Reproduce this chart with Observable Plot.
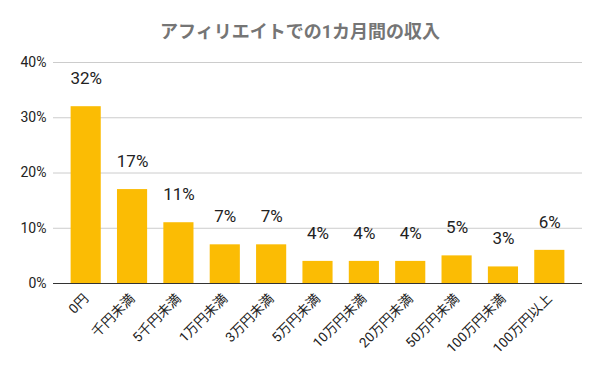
<!DOCTYPE html>
<html>
<head>
<meta charset="utf-8">
<script src="https://cdn.jsdelivr.net/npm/d3@7"></script>
<script src="https://cdn.jsdelivr.net/npm/@observablehq/plot@0.6"></script>
<style>
  html, body { margin: 0; padding: 0; background: #fff; overflow: hidden; }
  #title {
    width: 600px; height: 32px; padding-top: 16px; line-height: 32px;
    text-align: center; font-family: Roboto, "Noto Sans CJK JP", sans-serif;
    font-weight: bold; font-size: 18px; color: #757575;
  }
</style>
</head>
<body>
<div id="title">アフィリエイトでの1カ月間の収入</div>
<div id="chart"></div>
<script>
const categories = ["0円", "千円未満", "5千円未満", "1万円未満", "3万円未満", "5万円未満", "10万円未満", "20万円未満", "50万円未満", "100万円未満", "100万円以上"];
const values = [32, 17, 11, 7, 7, 4, 4, 4, 5, 3, 6];
const yTicks = [0, 10, 20, 30, 40];

const data = categories.map((c, i) => ({category: c, value: values[i]}));
const font = 'Roboto, "Noto Sans CJK JP", sans-serif';

const chart = Plot.plot({
  width: 600,
  height: 323,
  marginTop: 14,
  marginBottom: 88,
  marginLeft: 53,
  marginRight: 18,
  style: {fontFamily: font, color: "#222", background: "#fff"},
  x: {domain: categories, paddingInner: 0.35, paddingOuter: 0.38, round: false, axis: null},
  y: {domain: [0, 40], axis: null},
  marks: [
    Plot.gridY(yTicks, {stroke: "#cccccc", strokeOpacity: 1}),
    Plot.barY(data, {x: "category", y: "value", fill: "#fbbc04"}),
    Plot.ruleY([0], {stroke: "#333"}),
    Plot.text(data, {x: "category", y: "value", text: d => d.value + "%", dy: -28, fontSize: 17, fill: "#222"}),
    Plot.text(yTicks, {y: d => d, frameAnchor: "left", text: d => d + "%", textAnchor: "end", dx: -7, fontSize: 14, fill: "#222"}),
    Plot.text(categories, {x: d => d, frameAnchor: "bottom", text: d => d, rotate: -45, textAnchor: "end", dx: 3, dy: 16, fontSize: 13.5, fill: "#222"})
  ]
});
document.getElementById("chart").appendChild(chart);
</script>
</body>
</html>
